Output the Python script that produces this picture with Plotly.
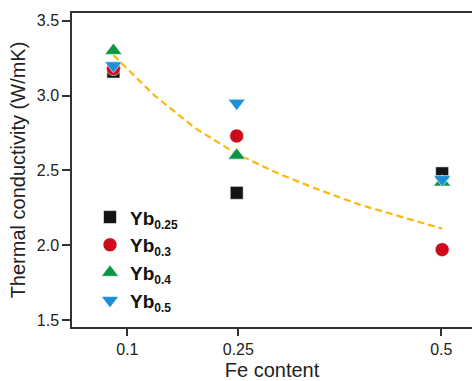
import plotly.graph_objects as go

# Fe content of the samples
fe_content = [0.1, 0.25, 0.5]

# Thermal conductivity (W/mK) for each Yb filling fraction
yb_025 = [3.16, 2.35, 2.48]
yb_03 = [3.18, 2.73, 1.97]
yb_04 = [3.30, 2.60, 2.42]
yb_05 = [3.20, 2.95, 2.44]

# Trend curve through the data
trend_x = [0.10, 0.15, 0.20, 0.25, 0.30, 0.35, 0.40, 0.45, 0.50]
trend_y = [3.27, 3.00, 2.78, 2.61, 2.48, 2.37, 2.27, 2.19, 2.11]

# x-axis tick placement and labels
x_tickvals = [0.117, 0.252, 0.499]
x_ticktext = ["0.1", "0.25", "0.5"]
y_tickvals = [1.5, 2.0, 2.5, 3.0, 3.5]
y_ticktext = ["1.5", "2.0", "2.5", "3.0", "3.5"]

# Legend labels, with a smaller subscript
fractions = ["0.25", "0.3", "0.4", "0.5"]
labels = ['<b>Yb<sub><span style="font-size:12px">%s</span></sub></b>' % f for f in fractions]

series = [
    (labels[0], yb_025, "square", "#141414", 13),
    (labels[1], yb_03, "circle", "#CE0A1E", 14),
    (labels[2], yb_04, "triangle-up", "#0B9546", 15),
    (labels[3], yb_05, "triangle-down", "#1E8FD6", 15),
]

FONT = "Liberation Sans, Arial, sans-serif"

fig = go.Figure()

fig.add_trace(go.Scatter(
    x=trend_x, y=trend_y, mode="lines",
    line=dict(color="#F8B80C", width=2.2, dash="7px,4px"),
    showlegend=False, hoverinfo="skip",
))

for name, vals, symbol, color, size in series:
    fig.add_trace(go.Scatter(
        x=fe_content, y=vals, mode="markers", name=name,
        marker=dict(symbol=symbol, color=color, size=size,
                    line=dict(color="white", width=0.6)),
    ))

fig.update_layout(
    width=472, height=381,
    margin=dict(l=72, r=0, t=13, b=54),
    paper_bgcolor="white", plot_bgcolor="white",
    font=dict(family=FONT, color="#222222"),
    legend=dict(
        x=0.045, y=0.41, xanchor="left", yanchor="top",
        bgcolor="rgba(0,0,0,0)",
        font=dict(family=FONT, size=19, color="#111111"),
        tracegroupgap=0, itemsizing="trace",
    ),
    xaxis=dict(
        range=[0.0496, 0.5363],
        tickvals=x_tickvals, ticktext=x_ticktext,
        ticks="outside", ticklen=7, tickwidth=1.5, tickcolor="#333333",
        showline=True, linecolor="#333333", linewidth=1.5, mirror=True,
        showgrid=False, zeroline=False,
        tickfont=dict(family=FONT, size=16, color="#222222"),
        title=dict(text="Fe content", font=dict(family=FONT, size=20, color="#222222"), standoff=8),
    ),
    yaxis=dict(
        range=[1.4532, 3.5515],
        tickvals=y_tickvals, ticktext=y_ticktext,
        ticks="outside", ticklen=8, tickwidth=1.5, tickcolor="#333333",
        showline=True, linecolor="#333333", linewidth=1.5, mirror=False,
        showgrid=False, zeroline=False,
        tickfont=dict(family=FONT, size=16, color="#222222"),
        title=dict(text="Thermal conductivity (W/mK)", font=dict(family=FONT, size=20, color="#222222"), standoff=6),
    ),
)

fig.write_html("out.html")
